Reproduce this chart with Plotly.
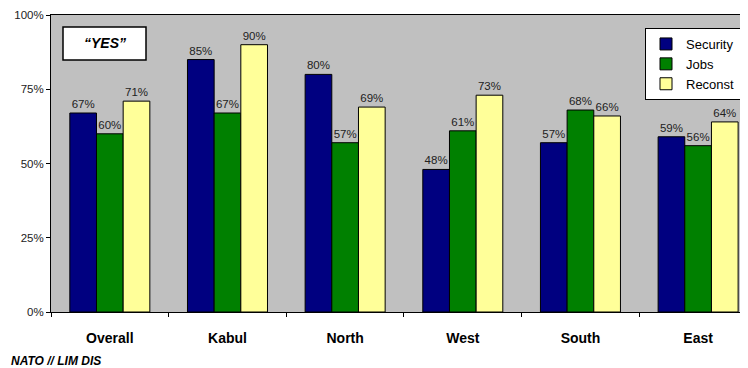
import plotly.graph_objects as go

categories = ["Overall", "Kabul", "North", "West", "South", "East"]
security = [67, 85, 80, 48, 57, 59]
jobs = [60, 67, 57, 61, 68, 56]
reconst = [71, 90, 69, 73, 66, 64]
series_names = ["Security", "Jobs", "Reconst"]
colors = ["#000080", "#008000", "#FFFF99"]

FONT = "Arial, Liberation Sans, sans-serif"

# page body has an 8px default margin; work in screen coords and offset
OFF = 8
SW, SH = 748, 368
W, H = SW - OFF, SH - OFF
L, T = 51 - OFF, 15 - OFF
B = SH - 312
R = 0
pw = W - L - R
ph = H - T - B


def px(x):
    return (x - OFF - L) / pw


def py(y):
    return (SH - B - y) / ph


fig = go.Figure()
for name, vals, col in zip(series_names, [security, jobs, reconst], colors):
    fig.add_trace(go.Bar(
        x=categories, y=vals, name=name,
        marker=dict(color=col, line=dict(color="#000000", width=1)),
        text=vals, texttemplate="%{text}%", textposition="outside",
        textangle=0, constraintext="none",
        textfont=dict(family=FONT, size=11.5, color="#222222"),
        cliponaxis=False,
    ))

fig.update_layout(
    width=W, height=H,
    margin=dict(l=L, r=R, t=T, b=B, pad=0),
    paper_bgcolor="#FFFFFF",
    plot_bgcolor="#C0C0C0",
    barmode="group", bargap=0.32, bargroupgap=0,
    font=dict(family=FONT, size=11.5, color="#222222"),
    showlegend=True,
    legend=dict(
        x=px(741), y=py(28), xanchor="right", yanchor="top",
        bgcolor="#FFFFFF", bordercolor="#000000", borderwidth=1,
        font=dict(family=FONT, size=13, color="#000000"),
        itemwidth=30, tracegroupgap=0,
    ),
    xaxis=dict(
        range=[-0.5, 5.424], showline=True, linecolor="#000000", linewidth=1,
        mirror=True, ticks="outside", tickson="boundaries", ticklen=4,
        tickcolor="#000000", showgrid=False, fixedrange=True,
        tickfont=dict(family=FONT, size=14, color="#000000", weight="bold"),
        ticklabelstandoff=13,
    ),
    yaxis=dict(
        range=[0, 100], dtick=25, ticksuffix="%", showline=True,
        linecolor="#000000", linewidth=1, ticks="outside", ticklen=4,
        tickcolor="#000000", showgrid=False, zeroline=False, fixedrange=True,
        tickfont=dict(family=FONT, size=11.5, color="#222222"),
    ),
    shapes=[dict(
        type="rect", xref="paper", yref="paper",
        x0=px(63), x1=px(146), y0=py(60), y1=py(27),
        fillcolor="#FFFFFF", line=dict(color="#000000", width=1.5),
    )],
    annotations=[
        dict(text="<b><i>“YES”</i></b>", xref="paper", yref="paper",
             x=px(104.5), y=py(43.5), showarrow=False,
             xanchor="center", yanchor="middle",
             font=dict(family=FONT, size=14, color="#000000")),
        dict(text="<b><i>NATO // LIM DIS</i></b>", xref="paper", yref="paper",
             x=px(9), y=py(361), showarrow=False,
             xanchor="left", yanchor="middle",
             font=dict(family=FONT, size=12, color="#000000")),
    ],
)

fig.write_html("out.html")
